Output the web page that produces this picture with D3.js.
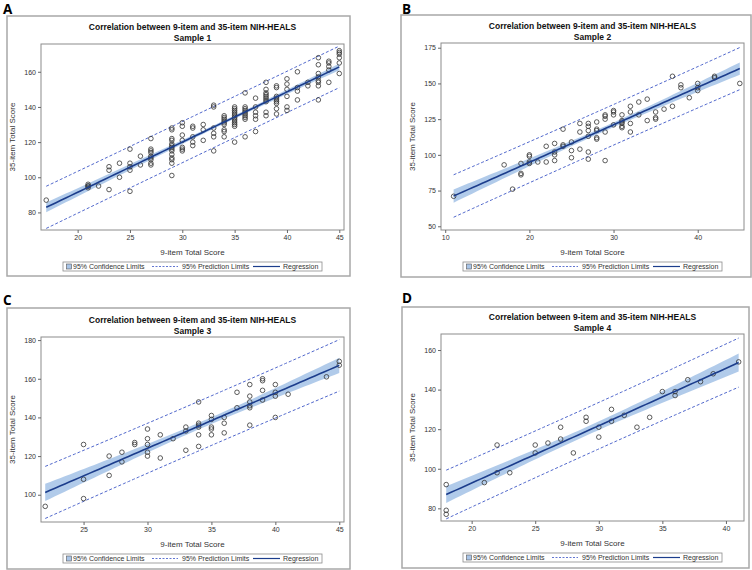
<!DOCTYPE html>
<html>
<head>
<meta charset="utf-8">
<script src="https://cdn.jsdelivr.net/npm/d3@7"></script>
<style>
  body { margin: 0; background: #fff; }
  svg { font-family: "Liberation Sans", Arial, sans-serif; }
</style>
</head>
<body>
<svg id="chart" width="752" height="570"></svg>
<script>
// 9-item score (x) and the 35-item scores seen at that x, per sample
var sample1X = [17, 21, 22, 23, 24, 25, 26, 27, 29, 30, 31, 32, 33, 34, 35, 36, 37, 38, 39, 40, 41, 42, 43, 44, 45];
var sample1Y = [
  [87], [96, 95, 94, 95], [95], [106, 104, 93], [108, 100], [116, 108, 106, 104, 92], [112, 107],
  [122, 116, 115, 114, 112, 111, 110, 108, 107],
  [128, 127, 122, 121, 119, 118, 117, 116, 115, 113, 111, 110, 108, 101],
  [131, 129, 124, 121, 117, 116, 115], [129, 128, 123, 120, 118], [130, 127, 121],
  [141, 140, 128, 125, 123, 115], [135, 134, 133, 132, 131, 130, 127, 126, 123],
  [140, 139, 138, 137, 136, 135, 134, 133, 132, 131, 130, 129, 120],
  [148, 140, 139, 138, 137, 136, 135, 134, 133, 123], [145, 140, 137, 135, 133, 126],
  [154, 150, 148, 147, 146, 145, 144, 143, 137, 135], [152, 151, 146, 145, 144, 143, 142, 139, 136],
  [156, 153, 150, 146, 140, 138], [160, 151, 149, 144], [154, 152],
  [168, 164, 159, 157, 155, 154, 152, 144], [166, 165, 163, 161, 154], [172, 171, 170, 168, 165, 159]
];

var sample2X = [11, 17, 18, 19, 20, 21, 22, 23, 24, 25, 26, 27, 28, 29, 30, 31, 32, 33, 34, 35, 36, 37, 38, 39, 40, 42, 45];
var sample2Y = [
  [71], [93], [76], [94, 87, 86], [100, 99, 95, 94], [95], [106, 95], [108, 102, 100, 96],
  [118, 107, 106], [109, 103, 98], [122, 116, 104], [122, 120, 117, 113, 102, 97],
  [123, 118, 117, 112, 111], [128, 127, 125, 116, 96], [131, 130, 128, 121],
  [128, 124, 123, 122, 120, 119], [134, 130, 122, 116], [137, 128], [139, 124],
  [130, 126, 125], [132], [155, 134], [149, 147], [140], [150, 147, 145], [155, 154], [150]
];

var sample3X = [22, 25, 27, 28, 29, 30, 31, 32, 33, 34, 35, 36, 37, 38, 39, 40, 41, 44, 45];
var sample3Y = [
  [94], [126, 108, 98], [120, 110], [122, 117], [127, 126], [134, 129, 126, 122, 120],
  [131, 119], [129], [135, 133, 123], [148, 137, 136, 135, 131, 125], [141, 139, 135, 134, 131],
  [140, 137, 132], [153, 145], [157, 151, 148, 146, 145, 136], [160, 159, 154, 149],
  [157, 153, 151, 140], [152], [161], [169, 167]
];

var sample4X = [18, 21, 22, 23, 25, 26, 27, 28, 29, 30, 31, 32, 33, 34, 35, 36, 37, 38, 39, 41];
var sample4Y = [
  [92, 79, 77], [93], [112, 98], [98], [112, 108], [113], [121, 115], [108], [126, 124],
  [121, 116], [130, 124], [127], [121], [126], [139], [139, 137], [145], [144], [148], [154]
];

var sample1XTicks = [20, 25, 30, 35, 40, 45], sample1YTicks = [80, 100, 120, 140, 160];
var sample2XTicks = [10, 20, 30, 40], sample2YTicks = [50, 75, 100, 125, 150, 175];
var sample3XTicks = [25, 30, 35, 40, 45], sample3YTicks = [100, 120, 140, 160, 180];
var sample4XTicks = [20, 25, 30, 35, 40], sample4YTicks = [80, 100, 120, 140, 160];

var titleText = "Correlation between 9-item and 35-item NIH-HEALS";
var legendLabels = ["95% Confidence Limits", "95% Prediction Limits", "Regression"];

var bandColor = "#a9c5e8",
    fitColor = "#1c3d8c",
    limitColor = "#5067cc";

var panels = [
  {letter: "A", sample: "Sample 1", xs: sample1X, ys: sample1Y, xTicks: sample1XTicks, yTicks: sample1YTicks,
   xDomain: [16.5, 45.45], yDomain: [70, 175.8],
   letterPos: [3, 14], frame: [7, 16, 350, 276], plot: [41, 44, 344, 230]},
  {letter: "B", sample: "Sample 2", xs: sample2X, ys: sample2Y, xTicks: sample2XTicks, yTicks: sample2YTicks,
   xDomain: [9.5, 45.5], yDomain: [47.4, 178.3],
   letterPos: [402, 14], frame: [401, 15, 751, 277], plot: [441, 43, 744, 230]},
  {letter: "C", sample: "Sample 3", xs: sample3X, ys: sample3Y, xTicks: sample3XTicks, yTicks: sample3YTicks,
   xDomain: [21.67, 45.37], yDomain: [85.9, 181.6],
   letterPos: [3, 305], frame: [7, 308, 350, 569], plot: [41, 337, 344, 522]},
  {letter: "D", sample: "Sample 4", xs: sample4X, ys: sample4Y, xTicks: sample4XTicks, yTicks: sample4YTicks,
   xDomain: [17.59, 41.42], yDomain: [73.6, 168.1],
   letterPos: [402, 303], frame: [402, 307, 749, 568], plot: [441, 334, 744, 521]}
];

function flatten(xs, ys) {
  var pts = [];
  xs.forEach(function(x, i) { ys[i].forEach(function(y) { pts.push([x, y]); }); });
  return pts;
}

// two-sided 95% t quantile, Cornish-Fisher style expansion
function t975(df) {
  var z = 1.959964;
  return z + (z * z * z + z) / (4 * df) + (5 * Math.pow(z, 5) + 16 * z * z * z + 3 * z) / (96 * df * df);
}

function fit(pts) {
  var n = pts.length,
      mx = d3.mean(pts, function(d) { return d[0]; }),
      my = d3.mean(pts, function(d) { return d[1]; }),
      sxx = d3.sum(pts, function(d) { return (d[0] - mx) * (d[0] - mx); }),
      sxy = d3.sum(pts, function(d) { return (d[0] - mx) * (d[1] - my); }),
      b = sxy / sxx,
      a = my - b * mx,
      sse = d3.sum(pts, function(d) { var r = d[1] - a - b * d[0]; return r * r; }),
      s = Math.sqrt(sse / (n - 2)),
      t = t975(n - 2);
  var ext = d3.extent(pts, function(d) { return d[0]; });
  return d3.range(0, 61).map(function(i) {
    var x = ext[0] + (ext[1] - ext[0]) * i / 60,
        yhat = a + b * x,
        h = 1 / n + (x - mx) * (x - mx) / sxx,
        ci = t * s * Math.sqrt(h),
        pi = t * s * Math.sqrt(1 + h);
    return {x: x, y: yhat, clo: yhat - ci, chi: yhat + ci, plo: yhat - pi, phi: yhat + pi};
  });
}

var svg = d3.select("#chart");

function drawPanel(p) {
  var g = svg.append("g"),
      pl = p.plot,
      cx = (pl[0] + pl[2]) / 2;

  g.append("text")
      .attr("x", p.letterPos[0]).attr("y", p.letterPos[1])
      .attr("font-family", "'Open Sans', 'Liberation Sans', sans-serif")
      .attr("font-size", 13.5).attr("font-weight", "bold")
      .text(p.letter);

  g.append("rect")
      .attr("x", p.frame[0]).attr("y", p.frame[1])
      .attr("width", p.frame[2] - p.frame[0]).attr("height", p.frame[3] - p.frame[1])
      .attr("fill", "#fff").attr("stroke", "#a8a8a8").attr("stroke-width", 1.5);

  g.append("text")
      .attr("x", cx).attr("y", pl[1] - 14)
      .attr("text-anchor", "middle").attr("font-size", 8.5).attr("font-weight", "bold")
      .attr("fill", "#111")
      .text(titleText);
  g.append("text")
      .attr("x", cx).attr("y", pl[1] - 3.5)
      .attr("text-anchor", "middle").attr("font-size", 8.5).attr("font-weight", "bold")
      .attr("fill", "#111")
      .text(p.sample);

  var x = d3.scaleLinear().domain(p.xDomain).range([pl[0], pl[2]]),
      y = d3.scaleLinear().domain(p.yDomain).range([pl[3], pl[1]]);

  var pts = flatten(p.xs, p.ys),
      band = fit(pts);

  g.append("path")
      .datum(band)
      .attr("fill", bandColor).attr("opacity", 0.9)
      .attr("d", d3.area()
          .x(function(d) { return x(d.x); })
          .y0(function(d) { return y(d.clo); })
          .y1(function(d) { return y(d.chi); }));

  ["plo", "phi"].forEach(function(k) {
    g.append("path")
        .datum(band)
        .attr("fill", "none").attr("stroke", limitColor).attr("stroke-width", 1)
        .attr("stroke-dasharray", "3,2")
        .attr("d", d3.line()
            .x(function(d) { return x(d.x); })
            .y(function(d) { return y(d[k]); }));
  });

  g.append("g").selectAll("circle")
      .data(pts)
      .join("circle")
      .attr("cx", function(d) { return x(d[0]); })
      .attr("cy", function(d) { return y(d[1]); })
      .attr("r", 2.3)
      .attr("fill", "none").attr("stroke", "#333").attr("stroke-width", 0.8);

  g.append("path")
      .datum(band)
      .attr("fill", "none").attr("stroke", fitColor).attr("stroke-width", 1.6)
      .attr("d", d3.line()
          .x(function(d) { return x(d.x); })
          .y(function(d) { return y(d.y); }));

  g.append("rect")
      .attr("x", pl[0]).attr("y", pl[1])
      .attr("width", pl[2] - pl[0]).attr("height", pl[3] - pl[1])
      .attr("fill", "none").attr("stroke", "#8c8c8c").attr("stroke-width", 1);

  var xAxis = g.append("g")
      .attr("transform", "translate(0," + pl[3] + ")")
      .call(d3.axisBottom(x).tickValues(p.xTicks).tickSize(3).tickPadding(2));
  var yAxis = g.append("g")
      .attr("transform", "translate(" + pl[0] + ",0)")
      .call(d3.axisLeft(y).tickValues(p.yTicks).tickSize(3).tickPadding(2));
  [xAxis, yAxis].forEach(function(ax) {
    ax.select(".domain").remove();
    ax.selectAll("line").attr("stroke", "#666");
    ax.selectAll("text").attr("font-size", 7).attr("fill", "#333")
        .attr("font-family", "'Liberation Sans', Arial, sans-serif");
  });

  g.append("text")
      .attr("x", cx).attr("y", pl[3] + 25)
      .attr("text-anchor", "middle").attr("font-size", 8).attr("fill", "#333")
      .text("9-item Total Score");
  g.append("text")
      .attr("transform", "translate(" + (pl[0] - 26) + "," + ((pl[1] + pl[3]) / 2) + ") rotate(-90)")
      .attr("text-anchor", "middle").attr("font-size", 8).attr("fill", "#333")
      .text("35-item Total Score");

  // legend
  var lx = cx - 129.5, ly = pl[3] + 32, lw = 259, lh = 9;
  var lg = g.append("g").attr("font-size", 7).attr("fill", "#333");
  lg.append("rect")
      .attr("x", lx).attr("y", ly).attr("width", lw).attr("height", lh)
      .attr("fill", "#fff").attr("stroke", "#8c8c8c").attr("stroke-width", 0.8);
  lg.append("rect")
      .attr("x", lx + 3.5).attr("y", ly + 2).attr("width", 5).attr("height", 5)
      .attr("fill", bandColor).attr("stroke", "#555").attr("stroke-width", 0.6);
  lg.append("text").attr("x", lx + 10).attr("y", ly + 7.2).text(legendLabels[0]);
  lg.append("line")
      .attr("x1", lx + 89).attr("x2", lx + 115).attr("y1", ly + 4.5).attr("y2", ly + 4.5)
      .attr("stroke", limitColor).attr("stroke-dasharray", "2,1.5").attr("stroke-width", 0.9);
  lg.append("text").attr("x", lx + 119).attr("y", ly + 7.2).text(legendLabels[1]);
  lg.append("line")
      .attr("x1", lx + 190).attr("x2", lx + 217).attr("y1", ly + 4.5).attr("y2", ly + 4.5)
      .attr("stroke", fitColor).attr("stroke-width", 1.2);
  lg.append("text").attr("x", lx + 220).attr("y", ly + 7.2).text(legendLabels[2]);
}

panels.forEach(drawPanel);
</script>
</body>
</html>
